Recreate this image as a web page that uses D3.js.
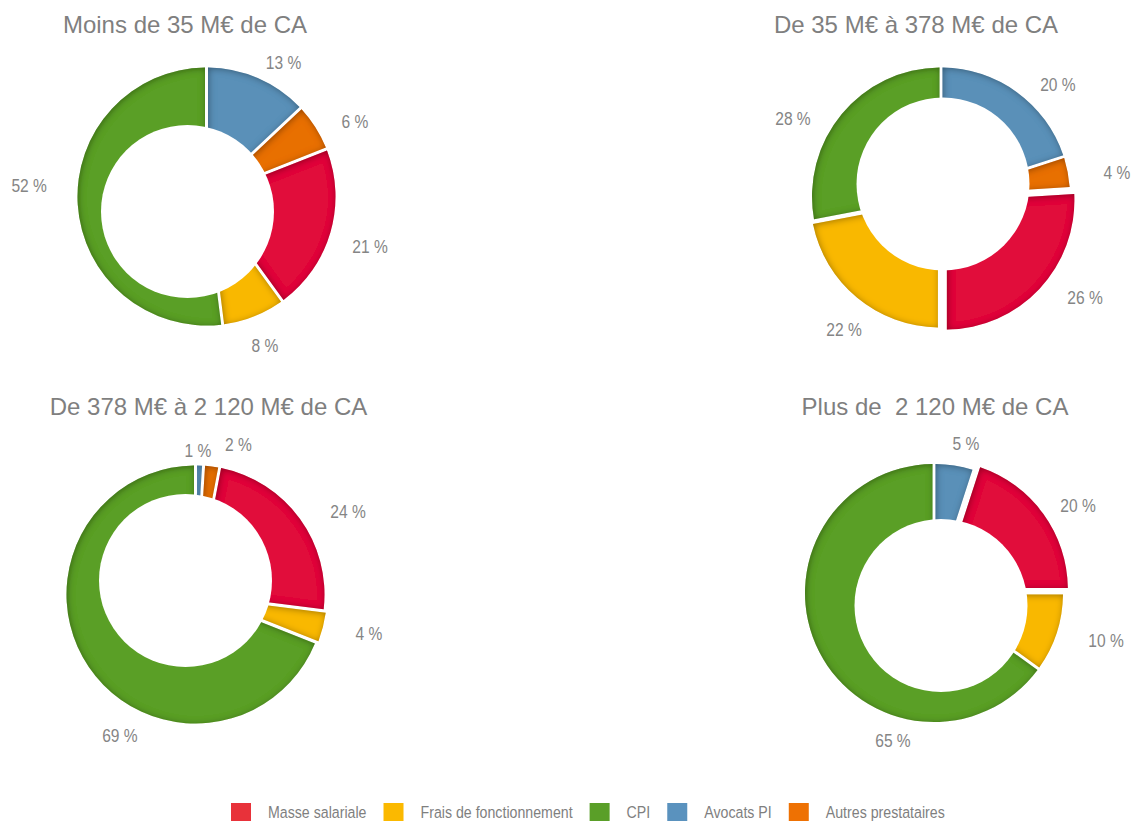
<!DOCTYPE html>
<html lang="fr">
<head>
<meta charset="utf-8">
<script src="https://cdn.jsdelivr.net/npm/d3@7"></script>
<style>
  html, body { margin: 0; padding: 0; background: #ffffff; }
  svg { display: block; }
  .title { font-family: "Liberation Sans", Arial, sans-serif; font-size: 24px; fill: #7f7f7f; white-space: pre; }
  .pct { font-family: "Liberation Sans", Arial, sans-serif; font-size: 19px; fill: #858585; }
  .leg { font-family: "Liberation Sans", Arial, sans-serif; font-size: 16.5px; fill: #7f7f7f; }
</style>
</head>
<body>
<script>
// Cost categories (legend order)
const categories = ["Masse salariale", "Frais de fonctionnement", "CPI", "Avocats PI", "Autres prestataires"];
// Clockwise order of the slices, starting at twelve o'clock
const sliceOrder = ["Avocats PI", "Autres prestataires", "Masse salariale", "Frais de fonctionnement", "CPI"];

// Company size brackets (one donut each)
const chartTitles = ["Moins de 35 M€ de CA", "De 35 M€ à 378 M€ de CA", "De 378 M€ à 2 120 M€ de CA", "Plus de  2 120 M€ de CA"];

// Share of each cost item, in %, per size bracket
const masseSalariale      = [21, 26, 24, 20];
const fraisFonctionnement = [8, 22, 4, 10];
const cpi                 = [52, 28, 69, 65];
const avocatsPI           = [13, 20, 1, 5];
const autresPrestataires  = [6, 4, 2, 0];

const seriesByCategory = {
  "Masse salariale": masseSalariale,
  "Frais de fonctionnement": fraisFonctionnement,
  "CPI": cpi,
  "Avocats PI": avocatsPI,
  "Autres prestataires": autresPrestataires
};

const sliceColors  = ["#e1103a", "#f9b800", "#5a9f28", "#5a90b8", "#e86f06"];
const legendColors = ["#e8323a", "#fbb900", "#5a9f28", "#5a92be", "#ee7103"];

// Panel layout: centre, offset of the white hole, slice explosion and label placement (angle in deg, radius)
const panels = [
  { cx: 206.5, cy: 196.5, hole: [-19, 15], titleX: 185, titleY: 33,
    explode: {},
    labels: { "Avocats PI": [29.8, 155], "Autres prestataires": [63, 166.6], "Masse salariale": [106.8, 170.8],
              "Frais de fonctionnement": [158.5, 159.6], "CPI": [273.7, 177.7] } },
  { cx: 941, cy: 196.5, hole: [2, -12.5], titleX: 916, titleY: 33,
    explode: { "Masse salariale": 6, "Frais de fonctionnement": 2.5 },
    labels: { "Avocats PI": [46.1, 162.3], "Autres prestataires": [82.1, 177.7], "Masse salariale": [124.9, 175.6],
              "Frais de fonctionnement": [216.2, 164.2], "CPI": [297.9, 167.5] } },
  { cx: 195.5, cy: 594.5, hole: [-10, -14], titleX: 208.5, titleY: 415,
    explode: { "Frais de fonctionnement": 2.5 },
    labels: { "Avocats PI": [1, 144], "Autres prestataires": [15.9, 156.5], "Masse salariale": [61.3, 173.9],
              "Frais de fonctionnement": [102.5, 177.7], "CPI": [208.3, 159.5] } },
  { cx: 934, cy: 593, hole: [7, 12.5], titleX: 935, titleY: 415,
    explode: { "Masse salariale": 6 },
    labels: { "Avocats PI": [12, 153.4], "Masse salariale": [58.6, 168.8],
              "Frais de fonctionnement": [105.3, 178.3], "CPI": [195.6, 152.6] } }
];

const W = 1133, H = 821;
const R = 129, holeR = 86.5, innerR = 45, gap = 3;
const narrow = 0.82;      // horizontal condensing of the percentage labels
const narrowLeg = 0.86;   // horizontal condensing of the legend text

const svg = d3.select("body").append("svg").attr("width", W).attr("height", H);

// Inner shading along the edges of every slice
const defs = svg.append("defs");
const f = defs.append("filter").attr("id", "edgeShade")
  .attr("x", "-20%").attr("y", "-20%").attr("width", "140%").attr("height", "140%");
f.append("feFlood").attr("flood-color", "#000").attr("flood-opacity", 0.68).attr("result", "flood");
f.append("feComposite").attr("in", "flood").attr("in2", "SourceAlpha").attr("operator", "out").attr("result", "outside");
f.append("feOffset").attr("in", "outside").attr("dx", 1.2).attr("dy", 1.2).attr("result", "shifted");
f.append("feGaussianBlur").attr("in", "shifted").attr("stdDeviation", 3.8).attr("result", "blur");
f.append("feComposite").attr("in", "blur").attr("in2", "SourceAlpha").attr("operator", "in").attr("result", "shade");
const m = f.append("feMerge");
m.append("feMergeNode").attr("in", "SourceGraphic");
m.append("feMergeNode").attr("in", "shade");

const color = d3.scaleOrdinal().domain(categories).range(sliceColors);
const legendColor = d3.scaleOrdinal().domain(categories).range(legendColors);

const pie = d3.pie().sort(null).value(d => d.value);
const arc = d3.arc().innerRadius(innerR).outerRadius(R).padRadius(R).padAngle(gap / R);

panels.forEach((p, i) => {
  const data = sliceOrder
    .map(name => ({ name, value: seriesByCategory[name][i] }))
    .filter(d => d.value > 0);

  const g = svg.append("g").attr("transform", `translate(${p.cx},${p.cy})`);

  const arcs = pie(data);
  g.selectAll("path.slice").data(arcs).join("path")
    .attr("class", "slice")
    .attr("d", arc)
    .attr("fill", d => color(d.data.name))
    .attr("filter", "url(#edgeShade)")
    .attr("transform", d => {
      const e = p.explode[d.data.name] || 0;
      const a = (d.startAngle + d.endAngle) / 2;
      return `translate(${e * Math.sin(a)},${-e * Math.cos(a)})`;
    });

  // white hole of the donut
  g.append("circle").attr("cx", p.hole[0]).attr("cy", p.hole[1]).attr("r", holeR).attr("fill", "#fff");

  // percentage labels
  g.selectAll("text.pct").data(arcs).join("text")
    .attr("class", "pct")
    .attr("text-anchor", "middle")
    .attr("transform", d => {
      const [a, r] = p.labels[d.data.name];
      const rad = a * Math.PI / 180;
      return `translate(${r * Math.sin(rad)},${-r * Math.cos(rad) + 6.8}) scale(${narrow},1)`;
    })
    .text(d => `${d.data.value} %`);

  svg.append("text").attr("class", "title")
    .attr("x", p.titleX).attr("y", p.titleY).attr("text-anchor", "middle")
    .text(chartTitles[i]);
});

// Legend along the bottom edge
const legend = svg.append("g");
let lx = 231;
categories.forEach(c => {
  legend.append("rect").attr("x", lx).attr("y", 803).attr("width", 20).attr("height", 20).attr("fill", legendColor(c));
  const t = legend.append("text").attr("class", "leg")
    .attr("transform", `translate(${lx + 37},817.5) scale(${narrowLeg},1)`).text(c);
  lx += 37 + t.node().getComputedTextLength() * narrowLeg + 17;
});
</script>
</body>
</html>
